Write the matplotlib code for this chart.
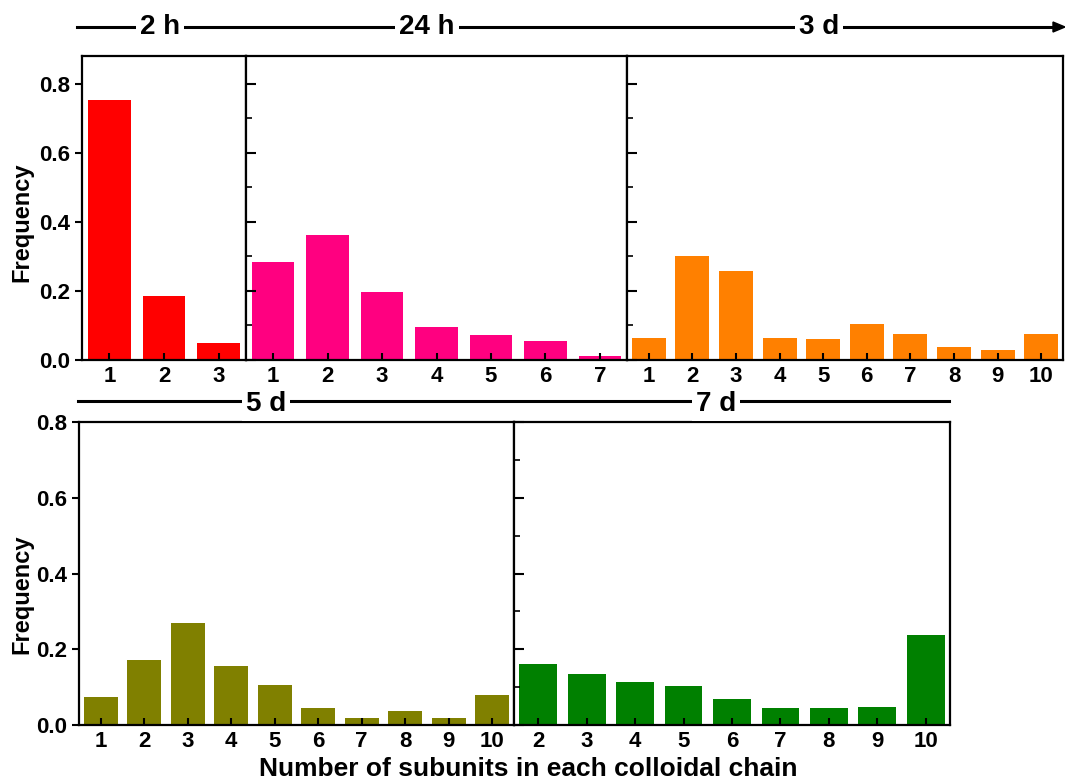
import matplotlib.pyplot as plt
from matplotlib.ticker import MultipleLocator

plt.rcParams['font.family'] = ['Liberation Sans', 'DejaVu Sans']
plt.rcParams['font.weight'] = 'bold'

# Frequências
x_2h = [1, 2, 3]
f_2h = [0.752, 0.186, 0.050]

x_24h = [1, 2, 3, 4, 5, 6, 7]
f_24h = [0.283, 0.361, 0.197, 0.095, 0.072, 0.055, 0.011]

x_3d = [1, 2, 3, 4, 5, 6, 7, 8, 9, 10]
f_3d = [0.065, 0.301, 0.257, 0.065, 0.060, 0.103, 0.074, 0.039, 0.029, 0.074]

x_5d = [1, 2, 3, 4, 5, 6, 7, 8, 9, 10]
f_5d = [0.074, 0.171, 0.268, 0.155, 0.105, 0.046, 0.018, 0.036, 0.018, 0.078]

x_7d = [2, 3, 4, 5, 6, 7, 8, 9, 10]
f_7d = [0.161, 0.135, 0.114, 0.102, 0.068, 0.044, 0.044, 0.048, 0.237]

W, H = 1065, 782
fig = plt.figure(figsize=(W / 100, H / 100), dpi=100)


def box(x0, x1, y0, y1):
    # pixel coords -> fraction of the figure
    return [x0 / W, 1 - y1 / H, (x1 - x0) / W, (y1 - y0) / H]


panels = [
    (box(82, 246, 56, 360), x_2h, f_2h, '#ff0000', 0.88, True),
    (box(246, 627, 56, 360), x_24h, f_24h, '#ff0080', 0.88, False),
    (box(627, 1063, 56, 360), x_3d, f_3d, '#ff8000', 0.88, False),
    (box(79, 514, 422, 725), x_5d, f_5d, '#808000', 0.8, True),
    (box(514, 950, 422, 725), x_7d, f_7d, '#008000', 0.8, False),
]

for rect, xs, fs, cor, ytop, first in panels:
    ax = fig.add_axes(rect)
    ax.bar(xs, fs, width=0.78, color=cor, zorder=1)
    ax.set_xlim(xs[0] - 0.5, xs[-1] + 0.5)
    ax.set_ylim(0, ytop)
    ax.set_xticks(xs)
    ax.tick_params(axis='x', direction='in', length=5, width=1.5,
                   labelsize=16, pad=4)
    ax.tick_params(top=False, right=False)
    for s in ax.spines.values():
        s.set_linewidth(1.6)
    ax.yaxis.set_major_locator(MultipleLocator(0.2))
    if first:
        ax.tick_params(axis='y', direction='out', length=5, width=1.5,
                       labelsize=16)
        ax.set_yticklabels(['%.1f' % t for t in ax.get_yticks()])
        ax.set_ylim(0, ytop)
    else:
        ax.yaxis.set_minor_locator(MultipleLocator(0.1))
        ax.tick_params(axis='y', which='major', direction='in', length=7,
                       width=1.5, labelleft=False)
        ax.tick_params(axis='y', which='minor', direction='in', length=4,
                       width=1.2)
    for lb in ax.get_xticklabels() + ax.get_yticklabels():
        lb.set_fontweight('bold')

# Rótulos dos eixos
fig.text(22 / W, 1 - 222 / H, 'Frequency', rotation=90, ha='center',
         va='center', fontsize=17, fontweight='bold')
fig.text(22 / W, 1 - 594 / H, 'Frequency', rotation=90, ha='center',
         va='center', fontsize=17, fontweight='bold')
fig.text(528 / W, 1 - 769 / H, 'Number of subunits in each colloidal chain',
         ha='center', va='center', fontsize=19, fontweight='bold')

# Linha do tempo superior (com seta)
ytl = 1 - 27 / H
fig.add_artist(plt.Line2D([77 / W, 1055 / W], [ytl, ytl], color='black',
                          lw=2.2, transform=fig.transFigure))
fig.patches.append(plt.Polygon([[1053 / W, ytl + 5 / H], [1065 / W, ytl],
                                [1053 / W, ytl - 5 / H]], closed=True,
                               color='black', transform=fig.transFigure,
                               figure=fig))
for lbl, xc in [('2 h', 160), ('24 h', 427), ('3 d', 819)]:
    fig.text(xc / W, ytl, lbl, ha='center', va='center', fontsize=20,
             fontweight='bold',
             bbox=dict(facecolor='white', edgecolor='none', pad=3))

# Linha do tempo inferior
ybl = 1 - 401 / H
fig.add_artist(plt.Line2D([78 / W, 949 / W], [ybl, ybl], color='black',
                          lw=2.2, transform=fig.transFigure))
for lbl, xc in [('5 d', 266), ('7 d', 716)]:
    fig.text(xc / W, ybl - 3 / H, lbl, ha='center', va='center', fontsize=20,
             fontweight='bold',
             bbox=dict(facecolor='white', edgecolor='none', pad=3))

fig.savefig('out.png', dpi=100, facecolor='white')
